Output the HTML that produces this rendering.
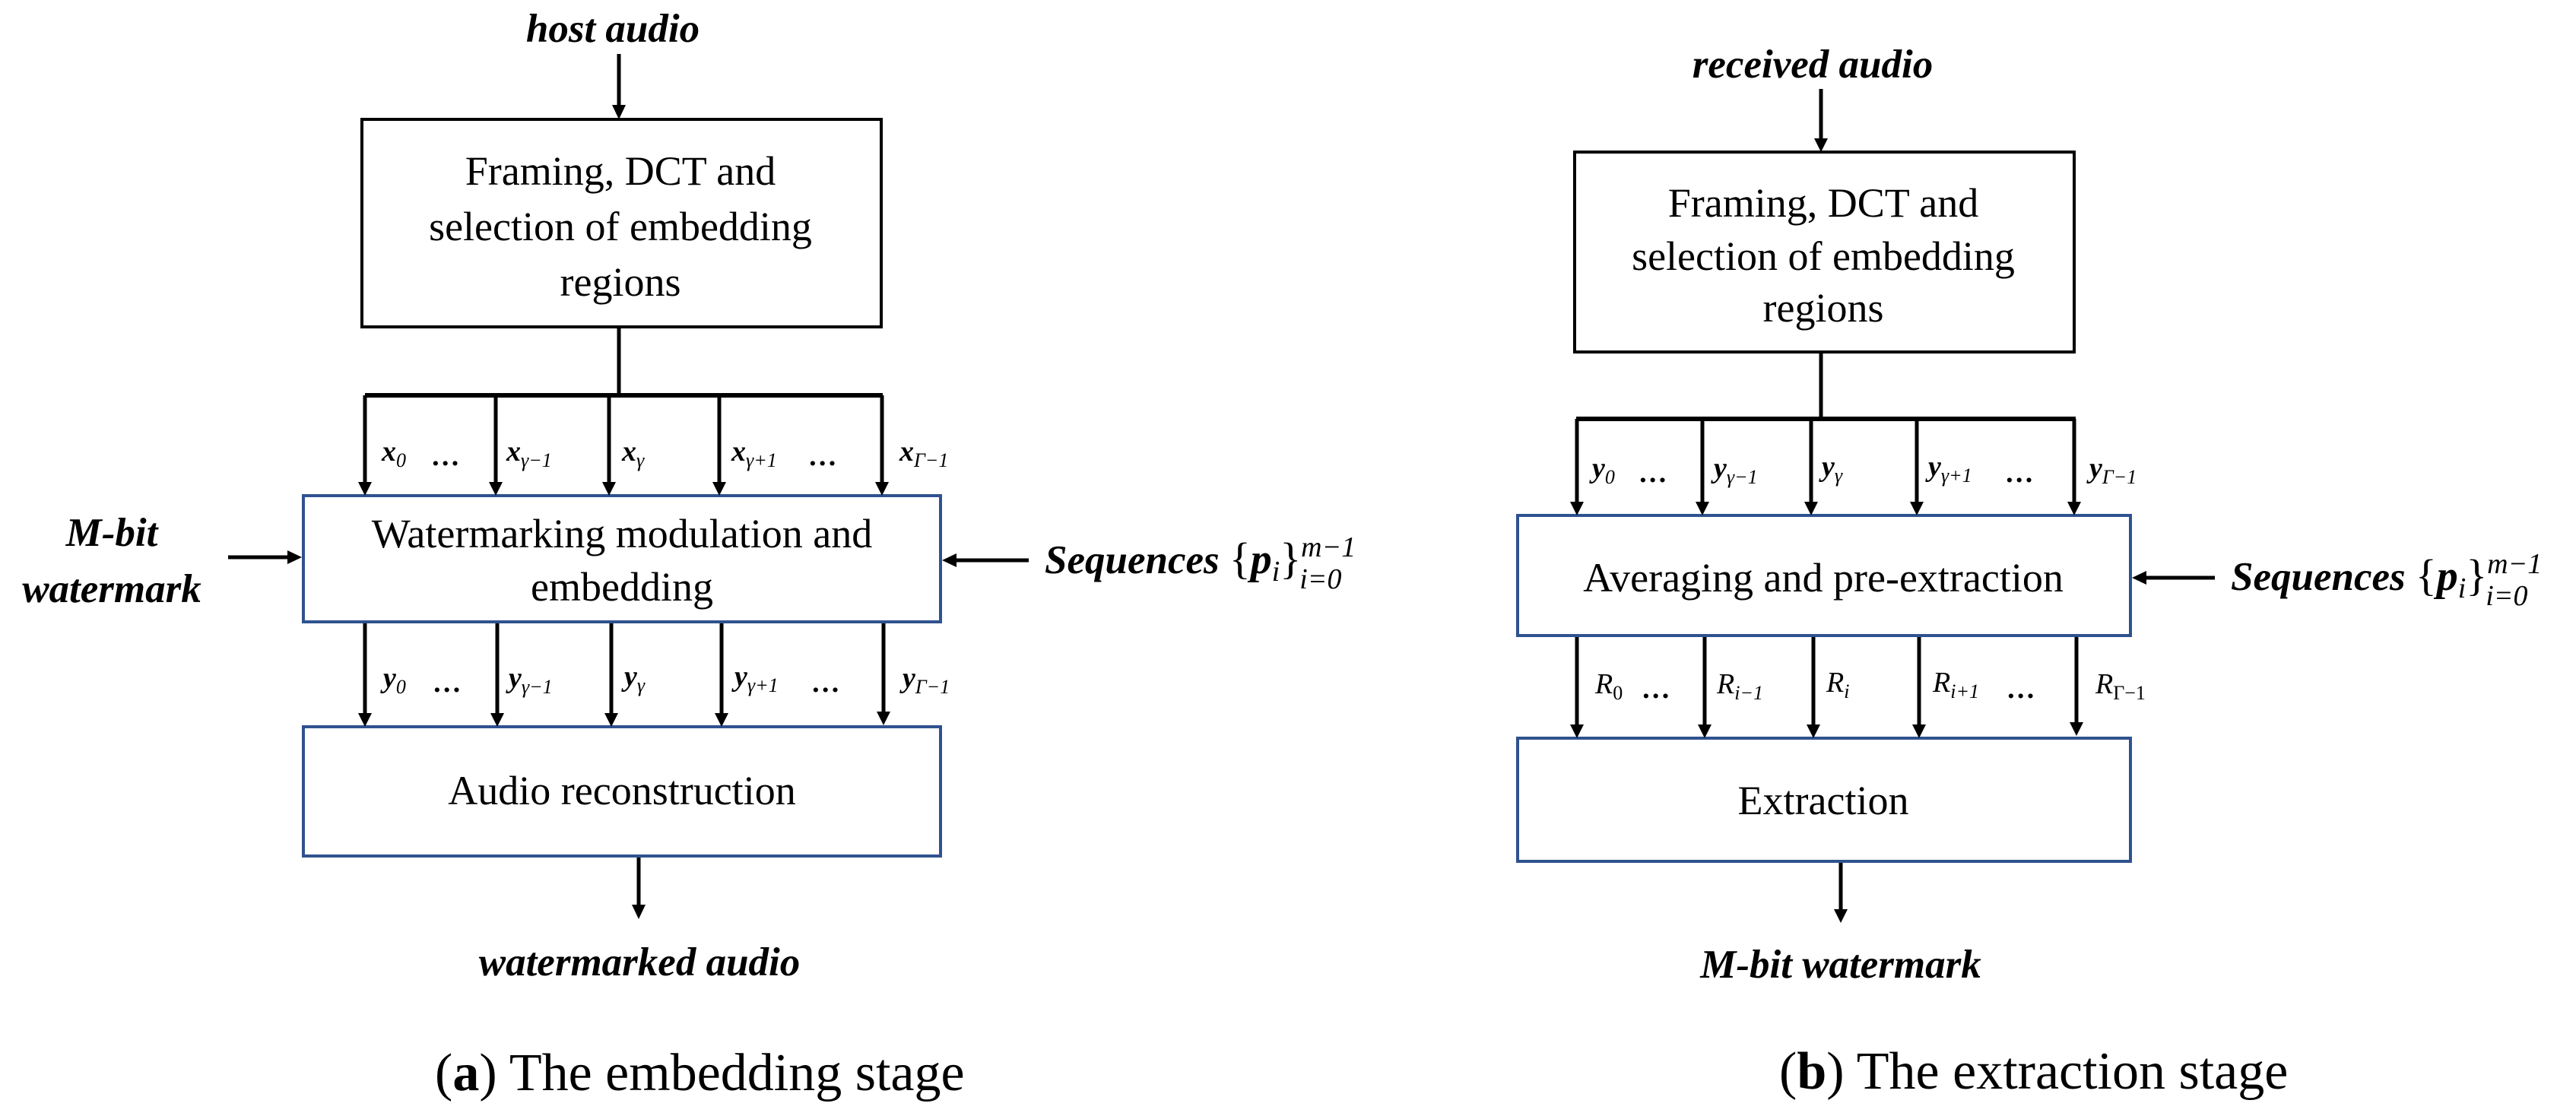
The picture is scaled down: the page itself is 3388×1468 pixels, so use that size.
<!DOCTYPE html>
<html><head><meta charset="utf-8">
<style>
html,body{margin:0;padding:0;background:#fff;}
svg{display:block;}
.box{font-family:"Liberation Serif",serif;font-size:54px;fill:#000;}
.lab{font-family:"Liberation Serif",serif;font-weight:bold;font-style:italic;font-size:53px;fill:#000;}
.m{font-family:"Liberation Serif",serif;font-weight:bold;font-style:italic;font-size:38px;fill:#000;}
.s{font-size:26px;font-weight:normal;}
.r{font-family:"Liberation Serif",serif;font-style:italic;font-size:38px;fill:#000;}
.cap{font-family:"Liberation Serif",serif;font-size:70px;fill:#000;}
.br{font-style:normal;font-weight:normal;font-size:58px;}
.sc{font-style:italic;font-weight:normal;font-size:38px;}
</style></head>
<body>
<svg width="3388" height="1468" viewBox="0 0 3388 1468" xmlns="http://www.w3.org/2000/svg">
<g stroke="#000" stroke-width="5" fill="none">
<!-- LEFT -->
<line x1="814" y1="71" x2="814" y2="138"/>
<rect x="476" y="157" width="683" height="273" stroke-width="4"/>
<line x1="814" y1="430" x2="814" y2="520"/>
<line x1="480" y1="520" x2="1161" y2="520" stroke-width="6"/>
<line x1="480" y1="520" x2="480" y2="634"/>
<line x1="652" y1="520" x2="652" y2="634"/>
<line x1="801" y1="520" x2="801" y2="634"/>
<line x1="946" y1="520" x2="946" y2="634"/>
<line x1="1160" y1="520" x2="1160" y2="634"/>
<line x1="480" y1="820" x2="480" y2="938"/>
<line x1="654" y1="820" x2="654" y2="938"/>
<line x1="804" y1="820" x2="804" y2="938"/>
<line x1="949" y1="820" x2="949" y2="938"/>
<line x1="1162" y1="818" x2="1162" y2="936"/>
<line x1="840" y1="1126" x2="840" y2="1190"/>
<line x1="300" y1="733" x2="380" y2="733"/>
<line x1="1353" y1="737" x2="1258" y2="737"/>
<!-- RIGHT -->
<line x1="2395" y1="117" x2="2395" y2="182"/>
<rect x="2071" y="200" width="657" height="263" stroke-width="4"/>
<line x1="2395" y1="463" x2="2395" y2="551"/>
<line x1="2073" y1="551" x2="2730" y2="551" stroke-width="6"/>
<line x1="2074" y1="551" x2="2074" y2="660"/>
<line x1="2239" y1="551" x2="2239" y2="660"/>
<line x1="2382" y1="551" x2="2382" y2="660"/>
<line x1="2521" y1="551" x2="2521" y2="660"/>
<line x1="2728" y1="551" x2="2728" y2="660"/>
<line x1="2074" y1="838" x2="2074" y2="953"/>
<line x1="2242" y1="838" x2="2242" y2="953"/>
<line x1="2385" y1="838" x2="2385" y2="953"/>
<line x1="2524" y1="838" x2="2524" y2="953"/>
<line x1="2731" y1="836" x2="2731" y2="950"/>
<line x1="2421" y1="1133" x2="2421" y2="1196"/>
<line x1="2913" y1="760" x2="2822" y2="760"/>
</g>
<g stroke="#2f528f" stroke-width="4" fill="none">
<rect x="399" y="652" width="838" height="166"/>
<rect x="399" y="956" width="838" height="170"/>
<rect x="1996" y="678" width="806" height="158"/>
<rect x="1996" y="971" width="806" height="162"/>
</g>
<g fill="#000">
<polygon points="805,138 823,138 814,157"/>
<polygon points="471,634 489,634 480,652"/>
<polygon points="643,634 661,634 652,652"/>
<polygon points="792,634 810,634 801,652"/>
<polygon points="937,634 955,634 946,652"/>
<polygon points="1151,634 1169,634 1160,652"/>
<polygon points="471,938 489,938 480,956"/>
<polygon points="645,938 663,938 654,956"/>
<polygon points="795,938 813,938 804,956"/>
<polygon points="940,938 958,938 949,956"/>
<polygon points="1153,936 1171,936 1162,954"/>
<polygon points="831,1190 849,1190 840,1209"/>
<polygon points="378,724 378,742 397,733"/>
<polygon points="1258,728 1258,746 1239,737"/>
<polygon points="2386,182 2404,182 2395,200"/>
<polygon points="2065,660 2083,660 2074,678"/>
<polygon points="2230,660 2248,660 2239,678"/>
<polygon points="2373,660 2391,660 2382,678"/>
<polygon points="2512,660 2530,660 2521,678"/>
<polygon points="2719,660 2737,660 2728,678"/>
<polygon points="2065,953 2083,953 2074,971"/>
<polygon points="2233,953 2251,953 2242,971"/>
<polygon points="2376,953 2394,953 2385,971"/>
<polygon points="2515,953 2533,953 2524,971"/>
<polygon points="2722,950 2740,950 2731,968"/>
<polygon points="2412,1196 2430,1196 2421,1214"/>
<polygon points="2823,751 2823,769 2804,760"/>
</g>

<!-- LEFT TEXT -->
<text class="lab" x="806" y="55" text-anchor="middle">host audio</text>
<text class="box" x="816" y="243" text-anchor="middle">Framing, DCT and</text>
<text class="box" x="816" y="316" text-anchor="middle">selection of embedding</text>
<text class="box" x="816" y="389" text-anchor="middle">regions</text>

<text class="m" x="502" y="606">x<tspan class="s" dy="8">0</tspan></text>
<text class="m" x="568" y="612">…</text>
<text class="m" x="666" y="606">x<tspan class="s" dy="8">γ−1</tspan></text>
<text class="m" x="818" y="606">x<tspan class="s" dy="8">γ</tspan></text>
<text class="m" x="962" y="606">x<tspan class="s" dy="8">γ+1</tspan></text>
<text class="m" x="1064" y="612">…</text>
<text class="m" x="1183" y="606">x<tspan class="s" dy="8">Γ−1</tspan></text>

<text class="box" x="818" y="720" text-anchor="middle">Watermarking modulation and</text>
<text class="box" x="818" y="790" text-anchor="middle">embedding</text>
<text class="lab" x="147" y="718" text-anchor="middle">M-bit</text>
<text class="lab" x="147" y="792" text-anchor="middle">watermark</text>
<text class="lab" x="1374" y="754">Sequences <tspan class="br">{</tspan><tspan font-size="56">p</tspan><tspan class="sc" dy="10">i</tspan><tspan class="br" dy="-10">}</tspan><tspan class="sc" dy="-22">m−1</tspan><tspan class="sc" dx="-74" dy="42">i=0</tspan></text>

<text class="m" x="504" y="904">y<tspan class="s" dy="8">0</tspan></text>
<text class="m" x="570" y="910">…</text>
<text class="m" x="669" y="904">y<tspan class="s" dy="8">γ−1</tspan></text>
<text class="m" x="821" y="902">y<tspan class="s" dy="8">γ</tspan></text>
<text class="m" x="966" y="902">y<tspan class="s" dy="8">γ+1</tspan></text>
<text class="m" x="1068" y="910">…</text>
<text class="m" x="1187" y="904">y<tspan class="s" dy="8">Γ−1</tspan></text>

<text class="box" x="818" y="1058" text-anchor="middle">Audio reconstruction</text>
<text class="lab" x="841" y="1283" text-anchor="middle">watermarked audio</text>
<text class="cap" x="572" y="1434">(<tspan font-weight="bold">a</tspan>)  The embedding stage</text>

<!-- RIGHT TEXT -->
<text class="lab" x="2384" y="102" text-anchor="middle">received audio</text>
<text class="box" x="2398" y="285" text-anchor="middle">Framing, DCT and</text>
<text class="box" x="2398" y="355" text-anchor="middle">selection of embedding</text>
<text class="box" x="2398" y="423" text-anchor="middle">regions</text>

<text class="m" x="2094" y="628">y<tspan class="s" dy="8">0</tspan></text>
<text class="m" x="2156" y="634">…</text>
<text class="m" x="2254" y="628">y<tspan class="s" dy="8">γ−1</tspan></text>
<text class="m" x="2396" y="626">y<tspan class="s" dy="8">γ</tspan></text>
<text class="m" x="2536" y="626">y<tspan class="s" dy="8">γ+1</tspan></text>
<text class="m" x="2638" y="634">…</text>
<text class="m" x="2748" y="628">y<tspan class="s" dy="8">Γ−1</tspan></text>

<text class="box" x="2398" y="778" text-anchor="middle">Averaging and pre-extraction</text>
<text class="lab" x="2934" y="776">Sequences <tspan class="br">{</tspan><tspan font-size="56">p</tspan><tspan class="sc" dy="10">i</tspan><tspan class="br" dy="-10">}</tspan><tspan class="sc" dy="-22">m−1</tspan><tspan class="sc" dx="-74" dy="42">i=0</tspan></text>

<text class="r" x="2098" y="912">R<tspan class="s" font-weight="bold" font-style="normal" dy="8">0</tspan></text>
<text class="m" x="2160" y="918">…</text>
<text class="r" x="2258" y="912">R<tspan class="s" dy="8">i−1</tspan></text>
<text class="r" x="2402" y="910">R<tspan class="s" dy="8">i</tspan></text>
<text class="r" x="2542" y="910">R<tspan class="s" dy="8">i+1</tspan></text>
<text class="m" x="2640" y="918">…</text>
<text class="r" x="2756" y="912">R<tspan class="s" font-style="normal" dy="8">Γ−1</tspan></text>

<text class="box" x="2398" y="1071" text-anchor="middle">Extraction</text>
<text class="lab" x="2421" y="1286" text-anchor="middle">M-bit watermark</text>
<text class="cap" x="2340" y="1432">(<tspan font-weight="bold">b</tspan>)  The extraction stage</text>
</svg>
</body></html>
